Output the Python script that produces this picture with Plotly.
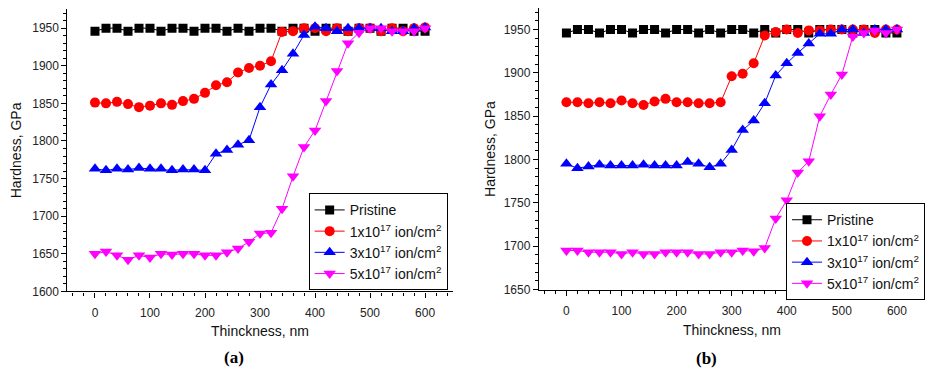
import plotly.graph_objects as go

thickness = [0, 20, 40, 60, 80, 100, 120, 140, 160, 180, 200, 220, 240, 260, 280, 300,
             320, 340, 360, 380, 400, 420, 440, 460, 480, 500, 520, 540, 560, 580, 600]

series_names = ["Pristine",
                "1x10<sup>17</sup> ion/cm<sup>2</sup>",
                "3x10<sup>17</sup> ion/cm<sup>2</sup>",
                "5x10<sup>17</sup> ion/cm<sup>2</sup>"]

# panel (a)
pristine_a = [1946, 1950, 1950, 1946, 1950, 1950, 1946, 1950, 1950, 1946, 1950, 1950, 1946, 1950, 1946, 1950,
              1950, 1946, 1950, 1950, 1946, 1950, 1950, 1946, 1950, 1950, 1946, 1950, 1950, 1946, 1946]
dose1_a = [1851, 1850, 1852, 1849, 1845, 1847, 1850, 1848, 1853, 1856, 1864, 1874, 1878, 1891, 1897, 1900,
           1906, 1945, 1946, 1950, 1950, 1946, 1950, 1946, 1950, 1950, 1946, 1950, 1946, 1950, 1951]
dose3_a = [1763, 1761, 1763, 1762, 1764, 1763, 1763, 1761, 1762, 1762, 1761, 1783, 1788, 1795, 1801, 1845,
           1875, 1894, 1916, 1941, 1952, 1950, 1946, 1950, 1950, 1950, 1950, 1946, 1946, 1950, 1951]
dose5_a = [1650, 1653, 1648, 1642, 1648, 1645, 1650, 1649, 1650, 1650, 1648, 1648, 1652, 1657, 1666, 1677,
           1678, 1710, 1753, 1792, 1814, 1853, 1893, 1930, 1944, 1950, 1950, 1946, 1946, 1946, 1950]

# panel (b)
pristine_b = [1946, 1950, 1950, 1946, 1950, 1950, 1946, 1950, 1950, 1946, 1950, 1950, 1946, 1950, 1946, 1950,
              1950, 1946, 1950, 1946, 1950, 1950, 1946, 1950, 1950, 1950, 1946, 1950, 1950, 1946, 1946]
dose1_b = [1866, 1866, 1865, 1866, 1865, 1868, 1865, 1863, 1867, 1870, 1866, 1866, 1865, 1865, 1866, 1896,
           1899, 1911, 1943, 1947, 1950, 1946, 1949, 1949, 1950, 1950, 1950, 1950, 1946, 1950, 1950]
dose3_b = [1795, 1790, 1792, 1794, 1793, 1793, 1793, 1794, 1793, 1793, 1793, 1797, 1795, 1791, 1795, 1811,
           1834, 1845, 1865, 1897, 1911, 1923, 1934, 1945, 1945, 1950, 1950, 1946, 1950, 1950, 1950]
dose5_b = [1695, 1695, 1693, 1693, 1693, 1691, 1693, 1691, 1691, 1693, 1693, 1693, 1691, 1691, 1693, 1693,
           1695, 1694, 1698, 1732, 1753, 1785, 1798, 1850, 1875, 1898, 1942, 1946, 1949, 1946, 1950]

colors = ["#000000", "#ff0000", "#0000ff", "#ff00ff"]
symbols = ["square", "circle", "triangle-up", "triangle-down"]
msizes = [9, 10, 11, 11]

W, H = 925, 376
FONT = "Arial, Liberation Sans, sans-serif"

fig = go.Figure()

panels = [
    ([pristine_a, dose1_a, dose3_a, dose5_a], "x", "y", "legend"),
    ([pristine_b, dose1_b, dose3_b, dose5_b], "x2", "y2", "legend2"),
]
for data, xa, ya, lg in panels:
    for i, vals in enumerate(data):
        fig.add_trace(go.Scatter(
            x=thickness, y=vals, mode="lines+markers", name=series_names[i],
            xaxis=xa, yaxis=ya, legend=lg,
            line=dict(color=colors[i], width=1),
            marker=dict(symbol=symbols[i], size=msizes[i], color=colors[i], line=dict(width=0)),
        ))

# geometry (pixels)
ax_l, ax_r = 68, 456
ay_t, ay_b = 9.5, 297
bx_l, bx_r = 543, 925
by_t, by_b = 8, 295
b_xmax = -50 + (bx_r - bx_l) / (388.5 / 700)

def px(v):
    return v / W

def py(v):
    return 1 - v / H

tickfont = dict(family=FONT, size=12, color="#222222")
common_y = dict(showline=True, linecolor="black", linewidth=1.3, ticks="outside", ticklen=5,
                tickwidth=1.2, tickcolor="black", showgrid=False, zeroline=False, tickfont=tickfont,
                minor=dict(ticks="outside", ticklen=3, tickcolor="black", tickwidth=1, showgrid=False))
common_x = dict(common_y, ticklabelstandoff=5)

top_common = dict(ticks="inside", ticklen=4, tickcolor="black", showticklabels=False,
                  showline=True, linecolor="black", linewidth=1.3, showgrid=False, zeroline=False)

fig.update_layout(
    width=W, height=H, margin=dict(l=0, r=0, t=0, b=0),
    paper_bgcolor="white", plot_bgcolor="white", font=dict(family=FONT),
    xaxis=dict(domain=[px(ax_l), px(ax_r)], range=[-50, 650], anchor="y", tick0=0, dtick=100,
               **common_x),
    yaxis=dict(domain=[py(ay_b), py(ay_t)], range=[1600, 1975], anchor="x", tick0=1600, dtick=50,
               **common_y),
    xaxis2=dict(domain=[px(bx_l), 1.0], range=[-50, b_xmax], anchor="y2", tick0=0, dtick=100,
                **common_x),
    yaxis2=dict(domain=[py(by_b), py(by_t)], range=[1650, 1975], anchor="x2", tick0=1650, dtick=50,
                **common_y),
    xaxis3=dict(overlaying="x", side="top", anchor="y", range=[-50, 650], tick0=-50, dtick=70,
                **top_common),
    yaxis3=dict(overlaying="y", side="right", anchor="x", range=[1600, 1975], tick0=1600, dtick=37.5,
                **top_common),
    xaxis4=dict(overlaying="x2", side="top", anchor="y2", range=[-50, b_xmax], tick0=-50, dtick=70,
                **top_common),
    legend=dict(x=px(311), y=py(197), xanchor="left", yanchor="top", bgcolor="white",
                bordercolor="black", borderwidth=1, font=dict(family=FONT, size=14, color="#111111"),
                tracegroupgap=0),
    legend2=dict(x=px(792), y=py(207), xanchor="left", yanchor="top", bgcolor="white",
                 bordercolor="black", borderwidth=1, font=dict(family=FONT, size=14, color="#111111"),
                 tracegroupgap=0),
    showlegend=True,
)

ann_font = dict(family=FONT, size=14, color="#111111")
annotations = [
    dict(text="Thinckness, nm", x=px((ax_l + ax_r) / 2), y=py(337), xref="paper", yref="paper",
         showarrow=False, font=ann_font, xanchor="center", yanchor="middle"),
    dict(text="Thinckness, nm", x=px(738), y=py(336), xref="paper", yref="paper",
         showarrow=False, font=ann_font, xanchor="center", yanchor="middle"),
    dict(text="Hardness, GPa", x=px(17), y=py((ay_t + ay_b) / 2), xref="paper", yref="paper",
         showarrow=False, font=ann_font, textangle=-90, xanchor="center", yanchor="middle"),
    dict(text="Hardness, GPa", x=px(493), y=py((by_t + by_b) / 2), xref="paper", yref="paper",
         showarrow=False, font=ann_font, textangle=-90, xanchor="center", yanchor="middle"),
    dict(text="<b>(a)</b>", x=px(236), y=py(364), xref="paper", yref="paper", showarrow=False,
         font=dict(family="Liberation Serif, DejaVu Serif, serif", size=17, color="black"),
         xanchor="center", yanchor="middle"),
    dict(text="<b>(b)</b>", x=px(712), y=py(365), xref="paper", yref="paper", showarrow=False,
         font=dict(family="Liberation Serif, DejaVu Serif, serif", size=17, color="black"),
         xanchor="center", yanchor="middle"),
]
fig.update_layout(annotations=annotations)

fig.write_html("out.html")
